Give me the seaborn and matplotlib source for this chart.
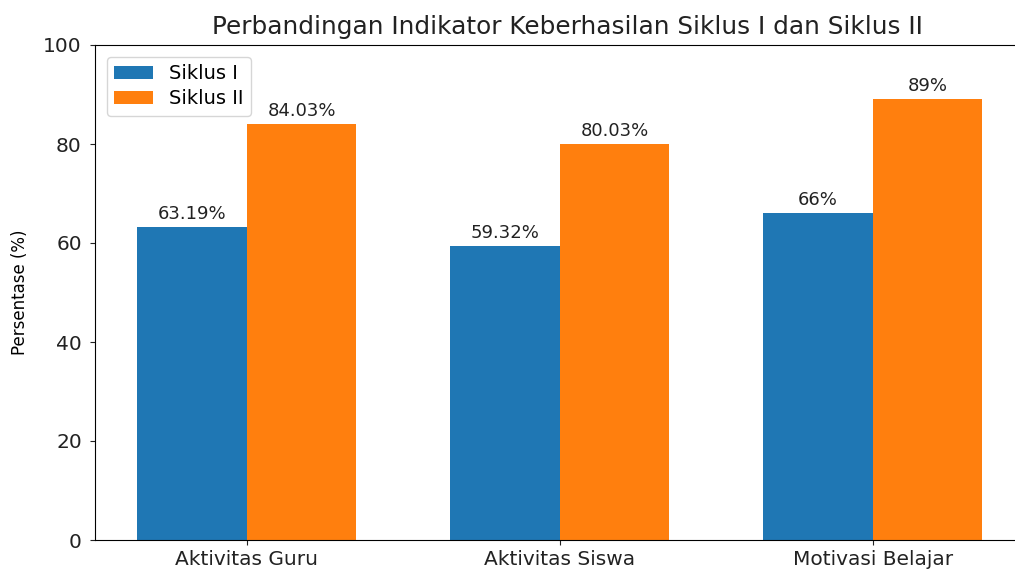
import matplotlib
matplotlib.use("Agg")
import matplotlib.pyplot as plt
import pandas as pd
import seaborn as sns

# data
indikator = ["Aktivitas Guru", "Aktivitas Siswa", "Motivasi Belajar"]
siklus = ["Siklus I", "Siklus II"]
siklus_1 = [63.19, 59.32, 66]
siklus_2 = [84.03, 80.03, 89]

df = pd.DataFrame({
    "indikator": indikator * 2,
    "siklus": [siklus[0]] * 3 + [siklus[1]] * 3,
    "persen": siklus_1 + siklus_2,
})

plt.rcParams["font.family"] = ["DejaVu Sans"]

fig = plt.figure(figsize=(10.15, 5.7), dpi=100)
# right edge of the axes sits outside the canvas, as in the reference crop
ax = fig.add_axes([95 / 1015, 30 / 570, 945 / 1015, 495 / 570])

sns.barplot(data=df, x="indikator", y="persen", hue="siklus",
            palette=["#1f77b4", "#ff7f0e"], saturation=1, width=0.7,
            errorbar=None, linewidth=0, legend=False, ax=ax)

for cont in ax.containers:
    ax.bar_label(cont, fmt="{:g}%", padding=3, fontsize=13, color="#222222")

ax.set_xlim(-0.485, 2.534)
ax.set_ylim(0, 100)
ax.set_xlabel("")
ax.set_ylabel("Persentase (%)", fontsize=12, labelpad=10)
ax.set_title("Perbandingan Indikator Keberhasilan Siklus I dan Siklus II",
             fontsize=17.8, color="#222222", pad=8)
ax.tick_params(labelsize=14.5, colors="#222222")
ax.tick_params(axis="y", pad=6)
ax.legend(ax.containers, siklus, loc="upper left", fontsize=14,
          labelspacing=0.3, borderaxespad=0.6)

fig.savefig("out.png", dpi=100)
